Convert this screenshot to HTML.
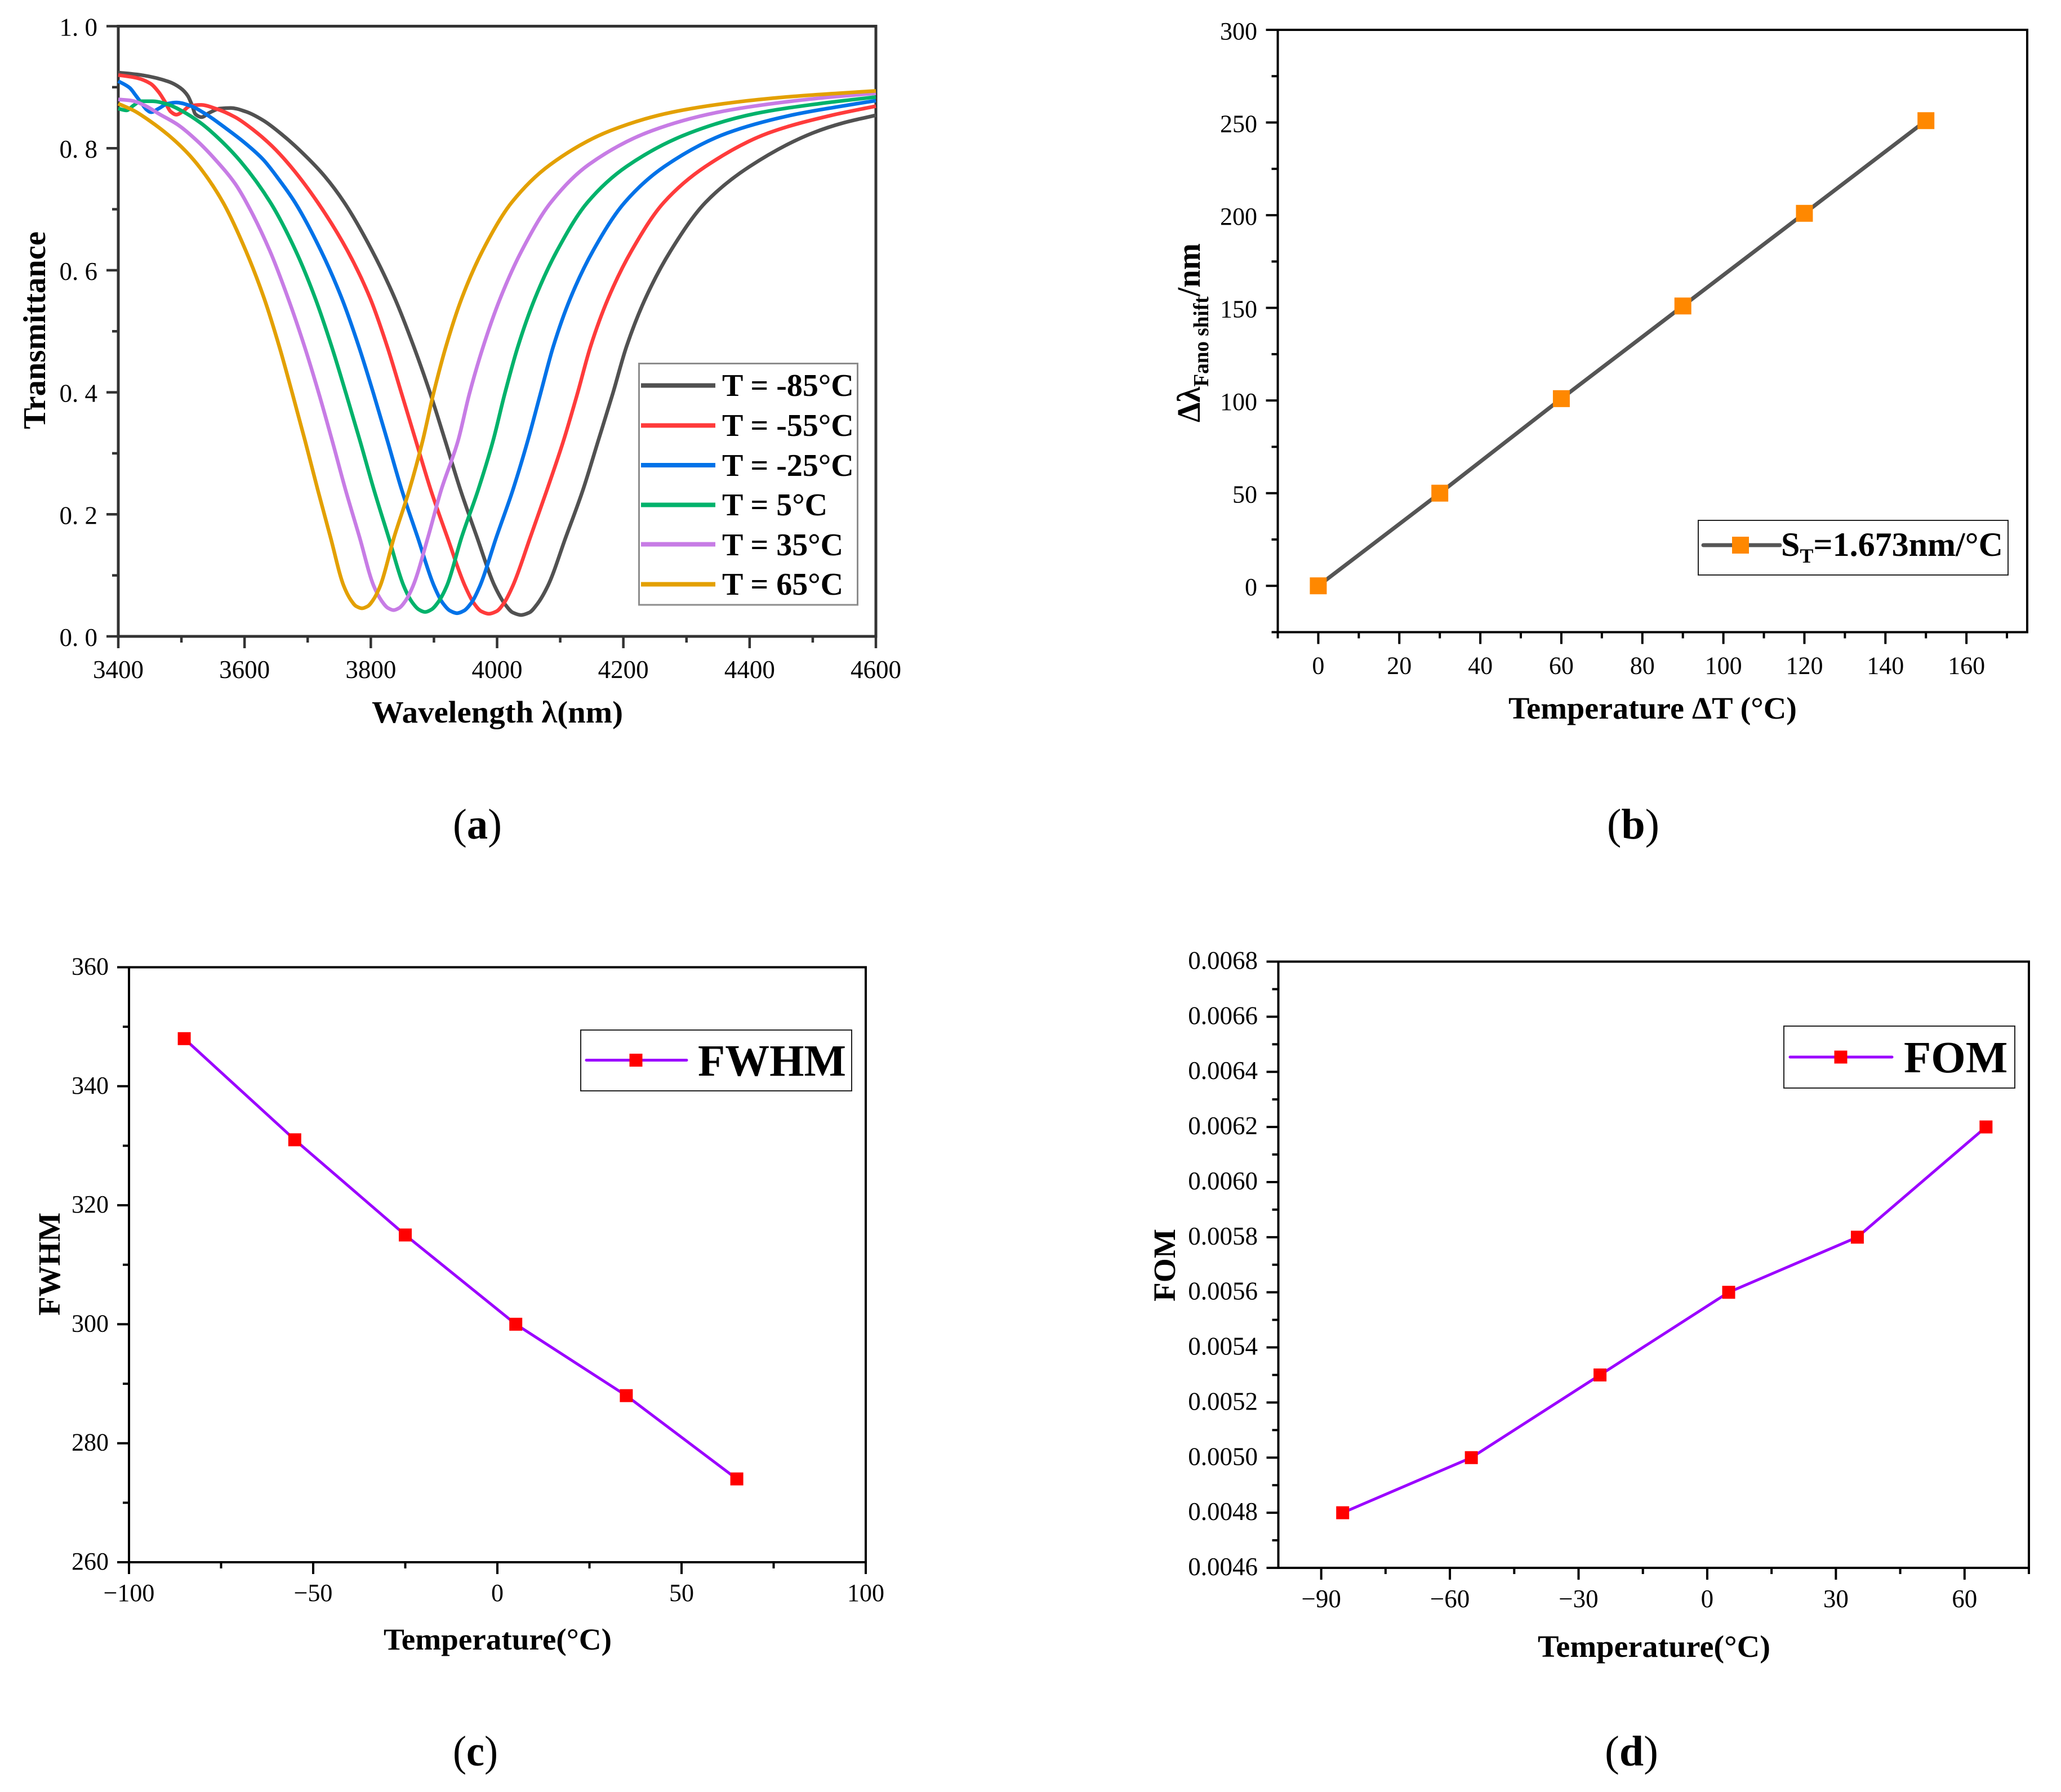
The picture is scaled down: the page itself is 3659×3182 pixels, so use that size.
<!DOCTYPE html>
<html lang="en">
<head>
<meta charset="utf-8">
<title>Temperature sensing results</title>
<style>
html,body{margin:0;padding:0;background:#fff;}
svg{display:block;}
text{font-family:"Liberation Serif","Noto Serif CJK SC",serif;fill:#000;}
.b{font-weight:bold;}
</style>
</head>
<body>
<svg id="fig" xmlns="http://www.w3.org/2000/svg" width="3659" height="3182" viewBox="0 0 3659 3182">
  <rect width="3659" height="3182" fill="#fff"/>
  <g id="panelA"></g>
  <g id="panelB"></g>
  <g id="panelC"></g>
  <g id="panelD"></g>

  <!-- Panel a static text -->
  <text class="b" x="660" y="1283" font-size="55" textLength="446" lengthAdjust="spacingAndGlyphs">Wavelength λ(nm)</text>
  <text class="b" transform="translate(80 762) rotate(-90)" font-size="56" textLength="351" lengthAdjust="spacingAndGlyphs">Transmittance</text>
  <g>
    <rect x="1134.5" y="645.5" width="388" height="428.5" fill="#fff" stroke="#8c8c8c" stroke-width="3"/>
    <line x1="1138" x2="1270" y1="684.5" y2="684.5" stroke="#515151" stroke-width="8"/>
    <line x1="1138" x2="1270" y1="755.5" y2="755.5" stroke="#ff3b3b" stroke-width="8"/>
    <line x1="1138" x2="1270" y1="826" y2="826" stroke="#0072e8" stroke-width="8"/>
    <line x1="1138" x2="1270" y1="896.5" y2="896.5" stroke="#00b26b" stroke-width="8"/>
    <line x1="1138" x2="1270" y1="966.5" y2="966.5" stroke="#c77ce5" stroke-width="8"/>
    <line x1="1138" x2="1270" y1="1037.5" y2="1037.5" stroke="#e3a000" stroke-width="8"/>
    <text class="b" x="1282" y="703" font-size="56">T = -85°C</text>
    <text class="b" x="1282" y="774" font-size="56">T = -55°C</text>
    <text class="b" x="1282" y="845" font-size="56">T = -25°C</text>
    <text class="b" x="1282" y="915" font-size="56">T = 5°C</text>
    <text class="b" x="1282" y="986" font-size="56">T = 35°C</text>
    <text class="b" x="1282" y="1056" font-size="56">T = 65°C</text>
  </g>
  <text x="804" y="1489" font-size="76" textLength="87" lengthAdjust="spacingAndGlyphs">(<tspan class="b">a</tspan>)</text>

  <!-- Panel b static text -->
  <text class="b" x="2678" y="1276" font-size="55" textLength="512" lengthAdjust="spacingAndGlyphs">Temperature ΔT (°C)</text>
  <text class="b" transform="translate(2130 750) rotate(-90)" font-size="58" textLength="318" lengthAdjust="spacingAndGlyphs">Δλ<tspan font-size="38" dy="15">Fano shift</tspan><tspan dy="-15">/nm</tspan></text>
  <g>
    <rect x="3015" y="924" width="550" height="97" fill="#fff" stroke="#222" stroke-width="2"/>
    <line x1="3024" x2="3160" y1="968" y2="968" stroke="#555" stroke-width="7" stroke-linecap="round"/>
    <rect x="3075" y="953" width="30" height="30" fill="#ff8800"/>
    <text class="b" x="3162" y="987" font-size="60">S<tspan font-size="36" dy="12">T</tspan><tspan dy="-12">=1.673nm/°C</tspan></text>
  </g>
  <text x="2853" y="1489" font-size="76" textLength="93" lengthAdjust="spacingAndGlyphs">(<tspan class="b">b</tspan>)</text>

  <!-- Panel c static text -->
  <text class="b" x="681" y="2929" font-size="54" textLength="405" lengthAdjust="spacingAndGlyphs">Temperature(°C)</text>
  <text class="b" transform="translate(106 2336) rotate(-90)" font-size="55" textLength="183" lengthAdjust="spacingAndGlyphs">FWHM</text>
  <g>
    <rect x="1031" y="1829" width="481" height="108" fill="#fff" stroke="#222" stroke-width="2"/>
    <line x1="1041" x2="1219" y1="1882.5" y2="1882.5" stroke="#9b00ff" stroke-width="5" stroke-linecap="round"/>
    <rect x="1117.5" y="1871" width="23" height="23" fill="#ff0000"/>
    <text class="b" x="1239" y="1910" font-size="79" textLength="263" lengthAdjust="spacingAndGlyphs">FWHM</text>
  </g>
  <text x="804" y="3135" font-size="76" textLength="80" lengthAdjust="spacingAndGlyphs">(<tspan class="b">c</tspan>)</text>

  <!-- Panel d static text -->
  <text class="b" x="2730" y="2942" font-size="55" textLength="413" lengthAdjust="spacingAndGlyphs">Temperature(°C)</text>
  <text class="b" transform="translate(2086 2311) rotate(-90)" font-size="55" textLength="129" lengthAdjust="spacingAndGlyphs">FOM</text>
  <g>
    <rect x="3167" y="1822" width="410" height="110" fill="#fff" stroke="#222" stroke-width="2"/>
    <line x1="3178" x2="3359" y1="1877" y2="1877" stroke="#9b00ff" stroke-width="5" stroke-linecap="round"/>
    <rect x="3256.5" y="1865.5" width="23" height="23" fill="#ff0000"/>
    <text class="b" x="3380" y="1904" font-size="79">FOM</text>
  </g>
  <text x="2849" y="3135" font-size="76" textLength="95" lengthAdjust="spacingAndGlyphs">(<tspan class="b">d</tspan>)</text>
</svg>

<script>
// ---------- Panel a data ----------
const seriesNamesA = ['t-minus-85','t-minus-55','t-minus-25','t-5','t-35','t-65'];
const seriesColorsA = ['#515151','#ff3b3b','#0072e8','#00b26b','#c77ce5','#e3a000'];
const lambdaM85 = [3400,3436,3480,3498,3510,3517,3522,3532,3544,3561,3578,3602,3629,3661,3697,3727,3758,3802,3838,3868,3894.5,3918,3942,3968,3996,4012,4025,4038,4051,4064,4080.5,4109,4136,4160,4183,4205,4235,4275,4330,4400,4500,4550,4600];
const transM85 = [.924,.920,.909,.899,.886,.870,.856,.851,.858,.865,.866,.860,.846,.821,.787,.754,.711,.632,.554,.475,.397,.32,.24,.163,.083,.0535,.039,.035,.039,.0535,.083,.163,.24,.32,.397,.475,.554,.632,.711,.77,.825,.842,.854];
const lambdaM55 = [3400,3430,3451,3464,3474,3483,3492,3503,3513,3531,3554,3585,3614,3644,3674,3716,3763,3799,3826,3849,3871.5,3895,3921,3949,3963,3975,3987,3999,4011,4025,4052.8,4079,4105,4127,4148,4176,4213,4264,4330,4430,4530,4600];
const transM55 = [.920,.915,.906,.892,.876,.860,.855,.861,.869,.871,.865,.851,.830,.803,.769,.711,.632,.554,.475,.397,.32,.24,.163,.083,.0547,.041,.037,.041,.0547,.083,.163,.24,.32,.397,.475,.554,.632,.711,.77,.825,.854,.869];
const lambdaM25 = [3400,3418,3428,3436,3445,3452,3464,3478,3492,3513,3540,3570,3599,3629,3655,3680,3721,3754,3781,3804.5,3826.5,3849,3874,3900,3913.5,3925.5,3936.5,3947.5,3959.5,3973,3999,4025,4048.4,4068.5,4089,4116,4152,4202,4265,4365,4470,4540,4600];
const transM25 = [.910,.899,.886,.875,.863,.859,.865,.873,.875,.870,.855,.833,.810,.782,.748,.711,.632,.554,.475,.397,.32,.24,.163,.083,.0553,.042,.038,.042,.0553,.083,.163,.24,.32,.397,.475,.554,.632,.711,.77,.825,.855,.868,.878];
const lambdaP5 = [3400,3413,3424,3436,3454,3478,3501,3531,3561,3594,3641,3681,3712,3738,3761,3783,3805,3828,3852,3865,3876,3886,3896,3907,3920.5,3944,3970,3993.5,4012,4033,4060,4095,4143,4205,4305,4410,4510,4600];
const transP5 = [.865,.862,.870,.877,.877,.872,.861,.841,.814,.778,.711,.632,.554,.475,.397,.32,.24,.163,.083,.0566,.044,.04,.044,.0566,.083,.163,.24,.32,.397,.475,.554,.632,.711,.77,.825,.857,.873,.884];
const lambdaP35 = [3400,3421,3442,3465,3495,3525,3554,3585,3603,3640,3669,3695,3718,3739,3760,3782,3804.5,3817,3827,3836,3845,3855,3867,3890.7,3911.5,3938,3956,3978,4005,4039,4085,4145,4246,4350,4450,4530,4600];
const transP35 = [.880,.878,.870,.856,.838,.812,.781,.742,.711,.632,.554,.475,.397,.32,.24,.163,.083,.0584,.0466,.043,.0466,.0584,.083,.163,.24,.32,.397,.475,.554,.632,.711,.773,.829,.859,.875,.884,.890];
const lambdaP65 = [3400,3424,3451,3480,3507,3531,3566,3602,3631,3655,3676,3696,3716,3736,3757,3768,3777,3786,3795,3804,3815,3837,3861,3882,3899,3919,3944,3977,4023,4084,4180,4277,4374,4470,4600];
const transP65 = [.873,.862,.844,.821,.795,.766,.711,.632,.554,.475,.397,.32,.24,.163,.083,.0602,.0493,.046,.0493,.0602,.083,.163,.24,.32,.397,.475,.554,.632,.711,.773,.829,.859,.875,.885,.894];
const xTicksA = [3400,3600,3800,4000,4200,4400,4600];
const xMinorA = [3500,3700,3900,4100,4300,4500];
const yTicksA = [0,0.2,0.4,0.6,0.8,1];
const yLabelsA = ['0. 0','0. 2','0. 4','0. 6','0. 8','1. 0'];
const yMinorA = [0.1,0.3,0.5,0.7,0.9];

// ---------- Panel b data ----------
const deltaT = [0,30,60,90,120,150];
const fanoShift = [0,50,101,151,201,251];
const xTicksB = [0,20,40,60,80,100,120,140,160];
const xMinorB = [-10,10,30,50,70,90,110,130,150,170];
const yTicksB = [0,50,100,150,200,250,300];
const yMinorB = [-25,25,75,125,175,225,275];

// ---------- Panel c data ----------
const temperatureC = [-85,-55,-25,5,35,65];
const fwhmValues = [348,331,315,300,288,274];
const xTicksC = [-100,-50,0,50,100];
const xLabelsC = ['\u2212100','\u221250','0','50','100'];
const xMinorC = [-75,-25,25,75];
const yTicksC = [260,280,300,320,340,360];
const yMinorC = [270,290,310,330,350];

// ---------- Panel d data ----------
const temperatureD = [-85,-55,-25,5,35,65];
const fomValues = [0.0048,0.0050,0.0053,0.0056,0.0058,0.0062];
const xTicksD = [-90,-60,-30,0,30,60];
const xLabelsD = ['\u221290','\u221260','\u221230','0','30','60'];
const xMinorD = [-75,-45,-15,15,45,75];
const yTicksD = [0.0046,0.0048,0.0050,0.0052,0.0054,0.0056,0.0058,0.0060,0.0062,0.0064,0.0066,0.0068];
const yLabelsD = ['0.0046','0.0048','0.0050','0.0052','0.0054','0.0056','0.0058','0.0060','0.0062','0.0064','0.0066','0.0068'];
const yMinorD = [0.0047,0.0049,0.0051,0.0053,0.0055,0.0057,0.0059,0.0061,0.0063,0.0065,0.0067];

const NS = 'http://www.w3.org/2000/svg';

function make(parent, tag, attrs, name) {
  const el = document.createElementNS(NS, tag);
  for (const k in attrs) el.setAttribute(k, attrs[k]);
  
  
  parent.appendChild(el);
  return el;
}

function linearScale(d0, d1, r0, r1) {
  return function (v) { return r0 + (v - d0) / (d1 - d0) * (r1 - r0); };
}

function drawAxes(g, o) {
  const sx = o.sx, sy = o.sy;
  make(g, 'rect', {x:o.left, y:o.top, width:o.right-o.left, height:o.bottom-o.top, fill:'none', stroke:o.color, 'stroke-width':o.sw}, o.id + '-plot-frame');
  o.xTicks.forEach(function (v, i) {
    const x = sx(v);
    make(g, 'line', {x1:x, x2:x, y1:o.bottom, y2:o.bottom+21, stroke:o.color, 'stroke-width':o.tw}, o.id + '-x-tick');
    const t = make(g, 'text', {x:x, y:o.bottom+o.xBase, 'font-size':o.fs, 'text-anchor':'middle'}, o.id + '-x-tick-label');
    t.textContent = o.xLabels ? o.xLabels[i] : String(v);
  });
  o.xMinor.forEach(function (v) {
    const x = sx(v);
    make(g, 'line', {x1:x, x2:x, y1:o.bottom, y2:o.bottom+11, stroke:o.color, 'stroke-width':o.tw}, o.id + '-x-minor-tick');
  });
  o.yTicks.forEach(function (v, i) {
    const y = sy(v);
    make(g, 'line', {x1:o.left-21, x2:o.left, y1:y, y2:y, stroke:o.color, 'stroke-width':o.tw}, o.id + '-y-tick');
    const t = make(g, 'text', {x:o.yRight, y:y+o.yBase, 'font-size':o.fs, 'text-anchor':'end'}, o.id + '-y-tick-label');
    t.textContent = o.yLabels ? o.yLabels[i] : String(v);
  });
  o.yMinor.forEach(function (v) {
    const y = sy(v);
    make(g, 'line', {x1:o.left-11, x2:o.left, y1:y, y2:y, stroke:o.color, 'stroke-width':o.tw}, o.id + '-y-minor-tick');
  });
}

// Monotone cubic path through data points already mapped to pixels
function smoothPath(xs, ys) {
  const n = xs.length, d = [], m = [];
  for (let i = 0; i < n - 1; i++) d.push((ys[i+1]-ys[i])/(xs[i+1]-xs[i]));
  m.push(d[0]);
  for (let i = 1; i < n - 1; i++) {
    if (d[i-1]*d[i] <= 0) { m.push(0); continue; }
    const w1 = 2*(xs[i+1]-xs[i]) + (xs[i]-xs[i-1]);
    const w2 = (xs[i+1]-xs[i]) + 2*(xs[i]-xs[i-1]);
    m.push((w1+w2)/(w1/d[i-1]+w2/d[i]));
  }
  m.push(d[n-2]);
  let p = 'M' + xs[0].toFixed(2) + ' ' + ys[0].toFixed(2);
  for (let i = 0; i < n - 1; i++) {
    const h = (xs[i+1]-xs[i])/3;
    p += 'C' + (xs[i]+h).toFixed(2) + ' ' + (ys[i]+m[i]*h).toFixed(2) + ' ' +
         (xs[i+1]-h).toFixed(2) + ' ' + (ys[i+1]-m[i+1]*h).toFixed(2) + ' ' +
         xs[i+1].toFixed(2) + ' ' + ys[i+1].toFixed(2);
  }
  return p;
}

function drawLineMarkers(g, xs, ys, sx, sy, o) {
  const pts = xs.map(function (x, i) { return sx(x).toFixed(2) + ',' + sy(ys[i]).toFixed(2); }).join(' ');
  make(g, 'polyline', {points:pts, fill:'none', stroke:o.line, 'stroke-width':o.lw, 'stroke-linejoin':'round', 'stroke-linecap':'round'}, o.id + '-series-line');
  xs.forEach(function (x, i) {
    make(g, 'rect', {x:sx(x)-o.ms/2, y:sy(ys[i])-o.ms/2, width:o.ms, height:o.ms, fill:o.marker}, o.id + '-data-point');
  });
}

// ---------- Panel a ----------
(function () {
  const g = document.getElementById('panelA');
  const left = 210, right = 1555, top = 46.5, bottom = 1130;
  const sx = linearScale(3400, 4600, left, right);
  const sy = linearScale(0, 1, bottom, top);
  drawAxes(g, {id:'panel-a', sx:sx, sy:sy, left:left, right:right, top:top, bottom:bottom, color:'#333', sw:5, tw:4.5, fs:45,
    xTicks:xTicksA, xMinor:xMinorA, yTicks:yTicksA, yLabels:yLabelsA, yMinor:yMinorA, xBase:74, yBase:17, yRight:173});
  const lambdas = [lambdaM85, lambdaM55, lambdaM25, lambdaP5, lambdaP35, lambdaP65];
  const trans = [transM85, transM55, transM25, transP5, transP35, transP65];
  lambdas.forEach(function (ls, i) {
    const d = smoothPath(ls.map(sx), trans[i].map(sy));
    make(g, 'path', {d:d, fill:'none', stroke:seriesColorsA[i], 'stroke-width':6.5}, 'transmittance-curve-' + seriesNamesA[i]);
  });
})();

// ---------- Panel b ----------
(function () {
  const g = document.getElementById('panelB');
  const left = 2268.5, right = 3599, top = 53, bottom = 1122.5;
  const sx = linearScale(-10, 175, left, right);
  const sy = linearScale(-25, 300, bottom, top);
  drawAxes(g, {id:'panel-b', sx:sx, sy:sy, left:left, right:right, top:top, bottom:bottom, color:'#000', sw:4, tw:4, fs:44,
    xTicks:xTicksB, xMinor:xMinorB, yTicks:yTicksB, yMinor:yMinorB, xBase:74, yBase:17, yRight:2232});
  drawLineMarkers(g, deltaT, fanoShift, sx, sy, {id:'panel-b', line:'#555', lw:7, marker:'#ff8800', ms:30});
})();

// ---------- Panel c ----------
(function () {
  const g = document.getElementById('panelC');
  const left = 229, right = 1537, top = 1717.5, bottom = 2774;
  const sx = linearScale(-100, 100, left, right);
  const sy = linearScale(260, 360, bottom, top);
  drawAxes(g, {id:'panel-c', sx:sx, sy:sy, left:left, right:right, top:top, bottom:bottom, color:'#000', sw:4, tw:4, fs:44,
    xTicks:xTicksC, xLabels:xLabelsC, xMinor:xMinorC, yTicks:yTicksC, yMinor:yMinorC, xBase:69, yBase:13, yRight:193});
  drawLineMarkers(g, temperatureC, fwhmValues, sx, sy, {id:'panel-c', line:'#9b00ff', lw:5, marker:'#ff0000', ms:23});
})();

// ---------- Panel d ----------
(function () {
  const g = document.getElementById('panelD');
  const left = 2269.5, right = 3602, top = 1707.5, bottom = 2784;
  const sx = linearScale(-100, 75, left, right);
  const sy = linearScale(0.0046, 0.0068, bottom, top);
  drawAxes(g, {id:'panel-d', sx:sx, sy:sy, left:left, right:right, top:top, bottom:bottom, color:'#000', sw:4, tw:4, fs:45,
    xTicks:xTicksD, xLabels:xLabelsD, xMinor:xMinorD, yTicks:yTicksD, yLabels:yLabelsD, yMinor:yMinorD, xBase:70, yBase:13, yRight:2233});
  drawLineMarkers(g, temperatureD, fomValues, sx, sy, {id:'panel-d', line:'#9b00ff', lw:5, marker:'#ff0000', ms:23});
})();
</script>
</body>
</html>
